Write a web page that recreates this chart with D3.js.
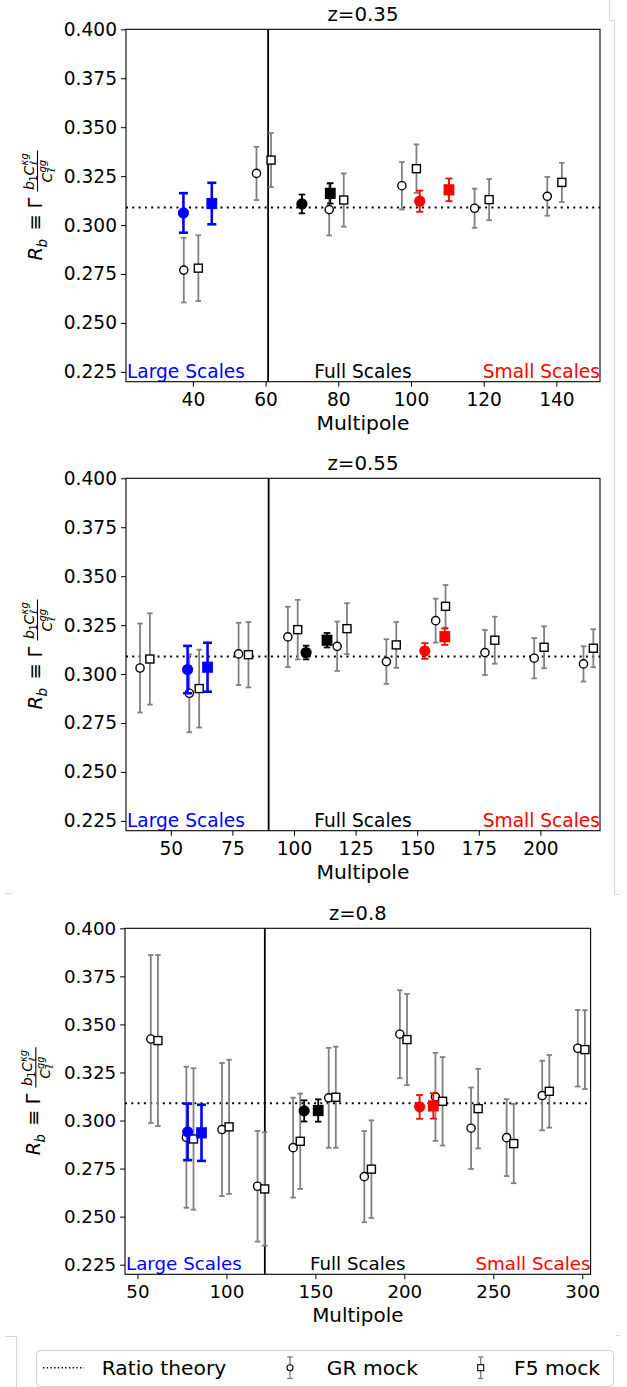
<!DOCTYPE html>
<html>
<head>
<meta charset="utf-8">
<script src="https://cdn.jsdelivr.net/npm/d3@7"></script>
<style>
body { margin: 0; background: #fff; }
svg { display: block; font-family: "DejaVu Sans", sans-serif; }
</style>
</head>
<body>
<div id="chart"></div>
<script>
// ---- z = 0.35 ----
var z035_grEll = [37.5, 57.5, 77.5, 97.5, 117.5, 137.5];
var z035_grVal = [0.2770, 0.3264, 0.3079, 0.3201, 0.3086, 0.3147];
var z035_grErr = [0.0165, 0.0136, 0.0132, 0.0121, 0.0100, 0.0099];
var z035_f5Ell = [41.5, 61.5, 81.5, 101.5, 121.5, 141.5];
var z035_f5Val = [0.2780, 0.3332, 0.3128, 0.3288, 0.3130, 0.3218];
var z035_f5Err = [0.0168, 0.0138, 0.0136, 0.0124, 0.0105, 0.0100];
var z035_largeEll = [37.4, 45.2];
var z035_largeVal = [0.3062, 0.3110];
var z035_largeErr = [0.0101, 0.0106];
var z035_fullEll = [70.0, 77.8];
var z035_fullVal = [0.3108, 0.3162];
var z035_fullErr = [0.0048, 0.0052];
var z035_smallEll = [102.4, 110.45];
var z035_smallVal = [0.3122, 0.3180];
var z035_smallErr = [0.0054, 0.0058];

// ---- z = 0.55 ----
var z055_grEll = [37.5, 57.5, 77.5, 97.5, 117.5, 137.5, 157.5, 177.5, 197.5, 217.5];
var z055_grVal = [0.3031, 0.2902, 0.3103, 0.3190, 0.3142, 0.3064, 0.3273, 0.3110, 0.3081, 0.3052];
var z055_grErr = [0.0227, 0.0199, 0.0159, 0.0154, 0.0126, 0.0114, 0.0112, 0.0115, 0.0103, 0.0090];
var z055_f5Ell = [41.5, 61.5, 81.5, 101.5, 121.5, 141.5, 161.5, 181.5, 201.5, 221.5];
var z055_f5Val = [0.3077, 0.2926, 0.3099, 0.3227, 0.3232, 0.3149, 0.3346, 0.3173, 0.3137, 0.3132];
var z055_f5Err = [0.0233, 0.0199, 0.0167, 0.0152, 0.0130, 0.0117, 0.0109, 0.0120, 0.0107, 0.0097];
var z055_largeEll = [56.8, 64.9];
var z055_largeVal = [0.3023, 0.3035];
var z055_largeErr = [0.0121, 0.0125];
var z055_fullEll = [104.9, 113.4];
var z055_fullVal = [0.3110, 0.3173];
var z055_fullErr = [0.0035, 0.0037];
var z055_smallEll = [153.1, 161.2];
var z055_smallVal = [0.3118, 0.3191];
var z055_smallErr = [0.0040, 0.0042];

// ---- z = 0.8 ----
var z08_grEll = [57.5, 77.5, 97.5, 117.5, 137.5, 157.5, 177.5, 197.5, 217.5, 237.5, 257.5, 277.5, 297.5];
var z08_grVal = [0.3424, 0.2913, 0.2953, 0.2658, 0.2859, 0.3118, 0.2708, 0.3449, 0.3123, 0.2960, 0.2911, 0.3130, 0.3376];
var z08_grErr = [0.0437, 0.0367, 0.0346, 0.0288, 0.0260, 0.0260, 0.0237, 0.0229, 0.0229, 0.0212, 0.0200, 0.0181, 0.0199];
var z08_f5Ell = [61.5, 81.5, 101.5, 121.5, 141.5, 161.5, 181.5, 201.5, 221.5, 241.5, 261.5, 281.5, 301.5];
var z08_f5Val = [0.3416, 0.2904, 0.2967, 0.2644, 0.2892, 0.3121, 0.2747, 0.3421, 0.3100, 0.3062, 0.2880, 0.3152, 0.3369];
var z08_f5Err = [0.0445, 0.0368, 0.0349, 0.0295, 0.0248, 0.0263, 0.0254, 0.0237, 0.0230, 0.0207, 0.0206, 0.0189, 0.0205];
var z08_largeEll = [78.2, 86.0];
var z08_largeVal = [0.2941, 0.2936];
var z08_largeErr = [0.0147, 0.0146];
var z08_fullEll = [143.7, 151.6];
var z08_fullVal = [0.3050, 0.3052];
var z08_fullErr = [0.0055, 0.0058];
var z08_smallEll = [208.6, 216.3];
var z08_smallVal = [0.3071, 0.3076];
var z08_smallErr = [0.0062, 0.0066];

var ratioTheory = 0.309;
var yTicks = [0.225, 0.25, 0.275, 0.3, 0.325, 0.35, 0.375, 0.4];
var legendLabels = ["Ratio theory", "GR mock", "F5 mock"];
var scaleNames = ["Large Scales", "Full Scales", "Small Scales"];

var panels = [
  { title: "z=0.35", left: 126, right: 600, top: 29.3, bottom: 381.7, s: 1,
    xDomain: [21.6, 152.0], xTicks: [40, 60, 80, 100, 120, 140], split: 60.7,
    grEll: z035_grEll, grVal: z035_grVal, grErr: z035_grErr,
    f5Ell: z035_f5Ell, f5Val: z035_f5Val, f5Err: z035_f5Err,
    largeEll: z035_largeEll, largeVal: z035_largeVal, largeErr: z035_largeErr,
    fullEll: z035_fullEll, fullVal: z035_fullVal, fullErr: z035_fullErr,
    smallEll: z035_smallEll, smallVal: z035_smallVal, smallErr: z035_smallErr },
  { title: "z=0.55", left: 126, right: 600, top: 478.3, bottom: 830.7, s: 1,
    xDomain: [31.8, 224.2], xTicks: [50, 75, 100, 125, 150, 175, 200], split: 89.7,
    grEll: z055_grEll, grVal: z055_grVal, grErr: z055_grErr,
    f5Ell: z055_f5Ell, f5Val: z055_f5Val, f5Err: z055_f5Err,
    largeEll: z055_largeEll, largeVal: z055_largeVal, largeErr: z055_largeErr,
    fullEll: z055_fullEll, fullVal: z055_fullVal, fullErr: z055_fullErr,
    smallEll: z055_smallEll, smallVal: z055_smallVal, smallErr: z055_smallErr },
  { title: "z=0.8", left: 125, right: 590.6, top: 928.3, bottom: 1274.3, s: 0.982,
    xDomain: [43.0, 304.7], xTicks: [50, 100, 150, 200, 250, 300], split: 121.6,
    grEll: z08_grEll, grVal: z08_grVal, grErr: z08_grErr,
    f5Ell: z08_f5Ell, f5Val: z08_f5Val, f5Err: z08_f5Err,
    largeEll: z08_largeEll, largeVal: z08_largeVal, largeErr: z08_largeErr,
    fullEll: z08_fullEll, fullVal: z08_fullVal, fullErr: z08_fullErr,
    smallEll: z08_smallEll, smallVal: z08_smallVal, smallErr: z08_smallErr }
];

var svg = d3.select("#chart")
  .append("svg")
  .attr("width", 627)
  .attr("height", 1387);

svg.append("rect").attr("width", 627).attr("height", 1387).attr("fill", "#fff");

// faint notebook cell borders from the screenshot
var frame = svg.append("g").attr("fill", "none").attr("stroke", "#d6d6d6").attr("stroke-width", 1);
frame.append("path").attr("d", "M609.5,0V20.5H614.5V894.5H620");
frame.append("path").attr("d", "M5,893.5H12");
frame.append("path").attr("d", "M5,1336.5H16.5V1387");
frame.append("path").attr("d", "M616,1335.5H620");

// draw error bars with caps
function errorBars(g, xs, vals, errs, x, y, color, width, cap) {
  xs.forEach(function(l, i) {
    var cx = x(l), y0 = y(vals[i] - errs[i]), y1 = y(vals[i] + errs[i]);
    g.append("line").attr("x1", cx).attr("x2", cx).attr("y1", y0).attr("y2", y1)
      .attr("stroke", color).attr("stroke-width", width);
    [y0, y1].forEach(function(yy) {
      g.append("line").attr("x1", cx - cap / 2).attr("x2", cx + cap / 2).attr("y1", yy).attr("y2", yy)
        .attr("stroke", color).attr("stroke-width", width);
    });
  });
}

function yLabel(g, cx, cy, s) {
  var lab = g.append("g")
    .attr("transform", `translate(${cx},${cy}) rotate(-90)`)
    .attr("fill", "#000");
  function t(txt, xx, yy, size, italic) {
    lab.append("text").attr("x", xx * s).attr("y", yy * s)
      .attr("font-size", size * s)
      .style("font-style", italic ? "italic" : "normal")
      .text(txt);
  }
  t("R", -55, 0, 19.5, true);
  t("b", -42, 4.5, 13.5, true);
  t("\u2261", -25, 0, 19.5, false);
  t("\u0393", -3, 0, 19.5, false);
  // fraction b1 C^kg / C^gg
  lab.append("line").attr("x1", 14 * s).attr("x2", 55 * s).attr("y1", -4.5 * s).attr("y2", -4.5 * s)
    .attr("stroke", "#000").attr("stroke-width", 1.1);
  t("b", 15.5, -8, 14, true);
  t("1", 24, -5, 10, false);
  t("C", 30, -8, 14, true);
  t("\u03bag", 40, -14, 10, true);
  t("\u2113", 40.5, -4.8, 10, true);
  t("C", 23, 9.5, 14, true);
  t("gg", 33, 3.5, 10, true);
  t("\u2113", 33.5, 13, 10, true);
}

function drawPanel(p) {
  var s = p.s;
  var x = d3.scaleLinear().domain(p.xDomain).range([p.left, p.right]);
  var y = d3.scaleLinear().domain([0.22, 0.40]).range([p.bottom, p.top]);
  var g = svg.append("g");

  // axes
  var yAxis = g.append("g")
    .attr("transform", `translate(${p.left},0)`)
    .call(d3.axisLeft(y).tickValues(yTicks).tickFormat(d3.format(".3f")).tickSize(5 * s).tickPadding(4 * s));
  var xAxis = g.append("g")
    .attr("transform", `translate(0,${p.bottom})`)
    .call(d3.axisBottom(x).tickValues(p.xTicks).tickFormat(d3.format("d")).tickSize(5 * s).tickPadding(6 * s));
  [xAxis, yAxis].forEach(function(a) {
    a.select(".domain").remove();
    a.selectAll("text").attr("font-size", 18.6 * s).attr("font-family", "DejaVu Sans").attr("fill", "#000");
    a.selectAll("line").attr("stroke", "#000").attr("stroke-width", 1);
  });

  // theory line and split
  g.append("line")
    .attr("x1", p.left).attr("x2", p.right)
    .attr("y1", y(ratioTheory)).attr("y2", y(ratioTheory))
    .attr("stroke", "#000").attr("stroke-width", 2).attr("stroke-dasharray", "2,4.3");
  g.append("line")
    .attr("x1", x(p.split)).attr("x2", x(p.split))
    .attr("y1", p.top).attr("y2", p.bottom)
    .attr("stroke", "#000").attr("stroke-width", 1.8);

  // mock points
  var pts = g.append("g");
  errorBars(pts, p.grEll, p.grVal, p.grErr, x, y, "#808080", 1.8, 5.5);
  errorBars(pts, p.f5Ell, p.f5Val, p.f5Err, x, y, "#808080", 1.8, 5.5);
  pts.selectAll(".gr").data(p.grEll).enter().append("circle")
    .attr("cx", d => x(d)).attr("cy", (d, i) => y(p.grVal[i])).attr("r", 4.1)
    .attr("fill", "#fff").attr("stroke", "#000").attr("stroke-width", 1.4);
  pts.selectAll(".f5").data(p.f5Ell).enter().append("rect")
    .attr("x", d => x(d) - 4).attr("y", (d, i) => y(p.f5Val[i]) - 4)
    .attr("width", 8).attr("height", 8)
    .attr("fill", "#fff").attr("stroke", "#000").attr("stroke-width", 1.4);

  // combined fits: circle = GR, square = F5
  var fits = [
    { ell: p.largeEll, val: p.largeVal, err: p.largeErr, color: "#0000ff", w: 2.6, cap: 9 },
    { ell: p.fullEll, val: p.fullVal, err: p.fullErr, color: "#000000", w: 1.8, cap: 6.5 },
    { ell: p.smallEll, val: p.smallVal, err: p.smallErr, color: "#ff0000", w: 1.8, cap: 7 }
  ];
  fits.forEach(function(f) {
    errorBars(g, f.ell, f.val, f.err, x, y, f.color, f.w, f.cap);
    g.append("circle").attr("cx", x(f.ell[0])).attr("cy", y(f.val[0])).attr("r", 5.6).attr("fill", f.color);
    g.append("rect").attr("x", x(f.ell[1]) - 5.4).attr("y", y(f.val[1]) - 5.6)
      .attr("width", 10.8).attr("height", 11.2).attr("fill", f.color);
  });

  // scale annotations
  var ann = [
    { x: p.left + 1, anchor: "start", color: "#0000ff" },
    { x: (p.left + p.right) / 2, anchor: "middle", color: "#000" },
    { x: p.right, anchor: "end", color: "#ff0000" }
  ];
  ann.forEach(function(a, i) {
    g.append("text").attr("x", a.x).attr("y", p.bottom - 4 * s)
      .attr("text-anchor", a.anchor).attr("fill", a.color)
      .attr("font-size", 18.6 * s).text(scaleNames[i]);
  });

  // frame
  g.append("rect").attr("x", p.left).attr("y", p.top)
    .attr("width", p.right - p.left).attr("height", p.bottom - p.top)
    .attr("fill", "none").attr("stroke", "#000").attr("stroke-width", 1.1);

  // title and labels
  g.append("text").attr("x", (p.left + p.right) / 2).attr("y", p.top - 8 * s)
    .attr("text-anchor", "middle").attr("font-size", 19.8 * s).text(p.title);
  g.append("text").attr("x", (p.left + p.right) / 2).attr("y", p.bottom + 48.5 * s)
    .attr("text-anchor", "middle").attr("font-size", 20.3 * s).text("Multipole");
  yLabel(g, 42 * s + (p.left - 126), (p.top + p.bottom) / 2, s);
}

panels.forEach(drawPanel);

// legend
var leg = svg.append("g");
leg.append("rect").attr("x", 36.5).attr("y", 1350.5).attr("width", 577).attr("height", 36)
  .attr("rx", 4).attr("fill", "#fff").attr("stroke", "#d0d0d0").attr("stroke-width", 1);
leg.append("line").attr("x1", 43).attr("x2", 84).attr("y1", 1367.7).attr("y2", 1367.7)
  .attr("stroke", "#000").attr("stroke-width", 1.4).attr("stroke-dasharray", "1.4,2.3");
var legX = [101.7, 326.7, 514];
legendLabels.forEach(function(lbl, i) {
  leg.append("text").attr("x", legX[i]).attr("y", 1374.5).attr("font-size", 20.3).text(lbl);
});
[290, 480.7].forEach(function(mx, i) {
  leg.append("line").attr("x1", mx).attr("x2", mx).attr("y1", 1357).attr("y2", 1378.5)
    .attr("stroke", "#808080").attr("stroke-width", 1.4);
  [1357, 1378.5].forEach(function(yy) {
    leg.append("line").attr("x1", mx - 2.7).attr("x2", mx + 2.7).attr("y1", yy).attr("y2", yy)
      .attr("stroke", "#808080").attr("stroke-width", 1.4);
  });
  if (i === 0) {
    leg.append("circle").attr("cx", mx).attr("cy", 1367.7).attr("r", 3)
      .attr("fill", "#fff").attr("stroke", "#000").attr("stroke-width", 1.1);
  } else {
    leg.append("rect").attr("x", mx - 3).attr("y", 1364.7).attr("width", 6).attr("height", 6)
      .attr("fill", "#fff").attr("stroke", "#000").attr("stroke-width", 1.1);
  }
});
</script>
</body>
</html>
